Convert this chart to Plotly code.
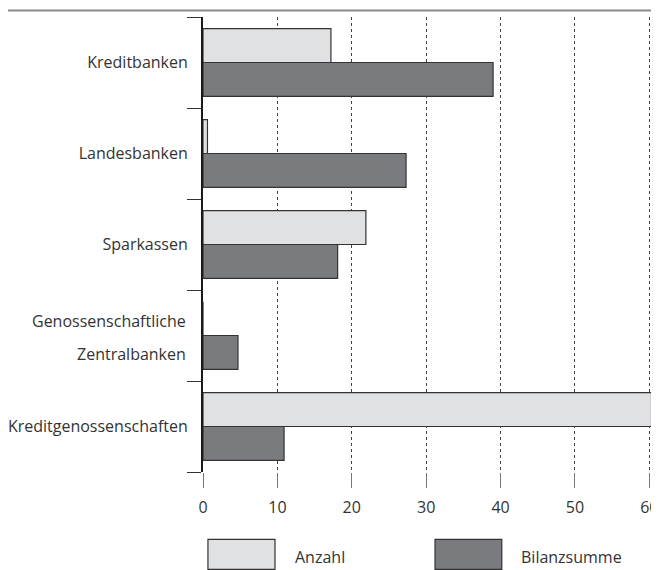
import plotly.graph_objects as go

# Kategorien von oben nach unten
kategorien = ['Kreditbanken', 'Landesbanken', 'Sparkassen',
              'Genossenschaftliche Zentralbanken', 'Kreditgenossenschaften']
# zweizeiliges Label wird extra gesetzt (größerer Zeilenabstand)
kategorie_labels = ['Kreditbanken', 'Landesbanken', 'Sparkassen',
                    '', 'Kreditgenossenschaften']
zweizeilig = ['Genossenschaftliche', 'Zentralbanken']

# Anteile in %
anzahl = [17.2, 0.6, 21.9, 0.0, 60.3]
bilanzsumme = [39.0, 27.3, 18.1, 4.7, 10.9]

x_ticks = [0, 10, 20, 30, 40, 50, 60]

hell = '#e0e1e3'
dunkel = '#7a7b7e'
rand = '#333333'
schrift = dict(family='Open Sans', size=16, color='#333333')

fig = go.Figure()

fig.add_trace(go.Bar(
    y=kategorien, x=anzahl, name='Anzahl', orientation='h',
    marker=dict(color=hell, line=dict(color=rand, width=1.2)),
    showlegend=False
))
fig.add_trace(go.Bar(
    y=kategorien, x=bilanzsumme, name='Bilanzsumme', orientation='h',
    marker=dict(color=dunkel, line=dict(color=rand, width=1.2)),
    showlegend=False
))

# Seite hat 8px Rand -> Figur etwas kleiner
fig.update_layout(
    width=651, height=562,
    margin=dict(l=195, r=6, t=9, b=98),
    barmode='group', bargap=0.256, bargroupgap=0,
    plot_bgcolor='white', paper_bgcolor='white',
    font=schrift,
)

fig.update_xaxes(
    range=[0, 60.5], tickvals=x_ticks, automargin=False,
    showgrid=True, gridcolor='#444444', griddash='3px,3px', gridwidth=1,
    zeroline=False, showline=False,
    ticks='outside', ticklen=15, tickcolor='#777777', tickwidth=1,
    ticklabelstandoff=6, tickfont=schrift,
)
fig.update_yaxes(
    categoryorder='array', categoryarray=kategorien,
    tickvals=kategorien, ticktext=kategorie_labels,
    range=[4.5, -0.5], automargin=False,
    showline=True, linecolor='#1a1a1a', linewidth=2,
    showgrid=False, zeroline=False,
    ticks='outside', tickson='boundaries', ticklen=14, tickcolor='#333333', tickwidth=1,
    ticklabelstandoff=10, tickfont=schrift,
)

for zeile, shift in zip(zweizeilig, [15, -18]):
    fig.add_annotation(text=zeile, xref='paper', yref='y',
                       x=-0.0333, y=kategorien[3], yshift=shift,
                       xanchor='right', yanchor='middle',
                       showarrow=False, font=schrift)

# graue Linie oben
fig.add_shape(type='line', xref='paper', yref='paper',
              x0=-0.44, x1=1.02, y0=1.0143, y1=1.0143,
              line=dict(color='#8a8a8a', width=2))

# Legende als große Kästchen
legende = [('Anzahl', hell, 0.011, 0.16, 0.2),
           ('Bilanzsumme', dunkel, 0.5156, 0.664, 0.702)]
for name, farbe, x0, x1, xt in legende:
    fig.add_shape(type='rect', xref='paper', yref='paper',
                  x0=x0, x1=x1, y0=-0.214, y1=-0.148,
                  fillcolor=farbe, line=dict(color=rand, width=1.2))
    fig.add_annotation(text=name, xref='paper', yref='paper',
                       x=xt, y=-0.1876, xanchor='left', yanchor='middle',
                       showarrow=False, font=schrift)

fig.write_html("out.html")
